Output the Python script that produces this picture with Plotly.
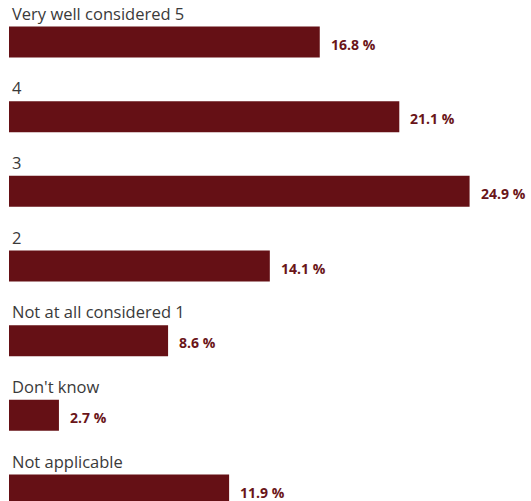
import plotly.graph_objects as go

categories = [
    "Very well considered 5",
    "4",
    "3",
    "2",
    "Not at all considered 1",
    "Don't know",
    "Not applicable",
]
values = [16.8, 21.1, 24.9, 14.1, 8.6, 2.7, 11.9]
value_labels = [f"{v:.1f} %" for v in values]

BAR_COLOR = "#651015"
LABEL_COLOR = "#3a3a3a"
VALUE_COLOR = "#6a1519"

fig = go.Figure(
    go.Bar(
        x=values,
        y=categories,
        orientation="h",
        marker=dict(color=BAR_COLOR, line=dict(width=0)),
        width=0.415,
        hoverinfo="skip",
    )
)

annotations = []
for i, (cat, val, lab) in enumerate(zip(categories, values, value_labels)):
    # category label sits above its bar (positioned by category index,
    # since names like "4" would otherwise be read as numbers)
    annotations.append(dict(
        x=0, y=i, xref="x", yref="y",
        text=cat, showarrow=False,
        xanchor="left", yanchor="middle",
        xshift=1, yshift=29,
        font=dict(family="Open Sans", size=16.5, color=LABEL_COLOR),
    ))
    # value label to the right of the bar end
    annotations.append(dict(
        x=val, y=i, xref="x", yref="y",
        text=lab, showarrow=False,
        xanchor="left", yanchor="middle",
        xshift=9, yshift=-2,
        font=dict(family="Open Sans", size=14, color=VALUE_COLOR, weight="bold"),
    ))

fig.update_layout(
    width=531, height=501,
    margin=dict(l=9, r=0, t=0, b=0),
    paper_bgcolor="white", plot_bgcolor="white",
    showlegend=False,
    annotations=annotations,
    xaxis=dict(range=[0, 28.22], visible=False, fixedrange=True),
    yaxis=dict(
        type="category",
        categoryorder="array", categoryarray=categories,
        range=[6.147, -0.5625],
        visible=False, fixedrange=True,
    ),
)

fig.write_html("out.html", config={"displayModeBar": False})
